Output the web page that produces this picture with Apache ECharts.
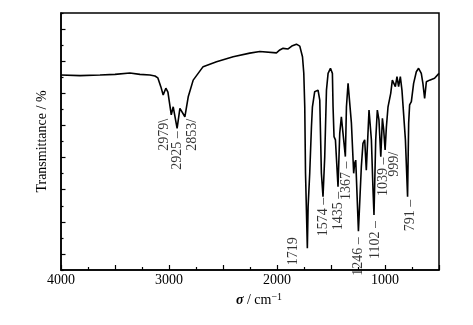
<!DOCTYPE html>
<html>
<head>
<meta charset="utf-8">
<script src="https://cdn.jsdelivr.net/npm/echarts@6/dist/echarts.min.js"></script>
<style>
html,body{margin:0;padding:0;background:#fff;}
#chart{width:473px;height:325px;}
</style>
</head>
<body>
<div id="chart"></div>
<script>
// Wavenumber (cm^-1)
const wavenumber = [4000, 3824, 3639, 3500, 3362, 3269, 3177, 3130, 3103, 3075, 3054, 3029, 3010, 2979, 2961, 2925, 2899, 2853, 2822, 2776, 2730, 2684, 2560, 2406, 2252, 2159, 2005, 1974, 1944, 1897, 1863, 1820, 1789, 1764, 1752, 1743, 1736, 1719, 1712, 1697, 1681, 1672, 1651, 1620, 1604, 1589, 1574, 1558, 1542, 1527, 1505, 1487, 1481, 1472, 1459, 1435, 1419, 1404, 1389, 1367, 1357, 1342, 1327, 1311, 1290, 1281, 1271, 1246, 1219, 1204, 1188, 1173, 1148, 1126, 1111, 1102, 1086, 1071, 1056, 1039, 1024, 1012, 999, 987, 972, 947, 932, 917, 904, 889, 874, 858, 843, 827, 811, 791, 781, 772, 756, 735, 710, 689, 664, 649, 633, 617, 587, 541, 500];
// Transmittance (arbitrary %)
const transmittance = [60.7, 60.5, 60.7, 60.9, 61.3, 60.9, 60.7, 60.4, 59.8, 57.0, 54.5, 56.6, 55.4, 48.3, 50.8, 44.1, 50.3, 47.7, 53.9, 59.1, 61.2, 63.3, 64.8, 66.4, 67.5, 68.0, 67.6, 68.5, 69.0, 68.8, 69.7, 70.3, 69.7, 66.4, 61.3, 50.8, 30.2, 6.8, 19.7, 30.1, 44.6, 50.8, 55.5, 56.0, 52.9, 30.1, 22.8, 35.3, 56.0, 61.2, 62.8, 61.2, 50.8, 41.5, 40.5, 25.9, 42.6, 47.7, 42.6, 35.3, 50.8, 58.1, 57.6, 45.7, 30.1, 33.2, 34.2, 12.1, 32.2, 39.4, 40.5, 31.1, 49.8, 40.5, 24.9, 17.1, 40.5, 49.8, 46.7, 35.3, 47.2, 43.6, 37.4, 44.6, 50.8, 55.0, 59.1, 59.7, 57.1, 60.2, 57.1, 60.2, 56.0, 56.0, 40.5, 22.8, 45.7, 51.4, 52.4, 58.1, 61.7, 62.8, 61.2, 58.1, 53.4, 58.6, 59.1, 59.7, 61.2];
// Annotated peaks
const peakWavenumbers = [2979, 2925, 2853, 1719, 1574, 1435, 1367, 1246, 1102, 1039, 999, 791];
// X tick labels
const xTickLabels = [4000, 3000, 2000, 1000];

// Label layout (pixel offsets of label top end from the peak, and leader glyph)
const peakLabelLayout = {
  2979: {d: [-7, 4], s: '\\'},
  2925: {d: [0, 3], s: ' \u2013'},
  2853: {d: [7, 2], s: '/'},
  1719: {d: [-14, -11], s: ''},
  1574: {d: [0, 1], s: ' \u2013'},
  1435: {d: [0, 5], s: ' \u2013'},
  1367: {d: [1, 5], s: ' \u2013'},
  1246: {d: [0, 6], s: ' \u2013'},
  1102: {d: [1, 6], s: ' \u2013'},
  1039: {d: [3, 1], s: ' \u2013'},
  999:  {d: [9, 2], s: '/'},
  791:  {d: [3, 3], s: ' \u2013'}
};

const FONT = 'Liberation Serif';
const spectrum = wavenumber.map((w, i) => [w, transmittance[i]]);
const peakData = peakWavenumbers.map(w => {
  const v = transmittance[wavenumber.indexOf(w)];
  const L = peakLabelLayout[w];
  return {
    value: [w, v],
    label: {position: L.d, formatter: String(w) + L.s}
  };
});

const chart = echarts.init(document.getElementById('chart'), null, {renderer: 'canvas'});
chart.setOption({
  animation: false,
  backgroundColor: '#fff',
  grid: {left: 61, top: 13, right: 34, bottom: 55, show: true, borderColor: '#000', borderWidth: 1.5, backgroundColor: 'transparent'},
  xAxis: {
    type: 'value', inverse: true, min: 500, max: 4000, interval: 500,
    axisLine: {lineStyle: {color: '#000', width: 1.5}},
    axisTick: {inside: true, length: 5, lineStyle: {color: '#000', width: 1.2}},
    minorTick: {show: true, splitNumber: 2, length: 3, lineStyle: {color: '#000', width: 1.2}},
    splitLine: {show: false},
    axisLabel: {
      showMaxLabel: true, showMinLabel: true,
      formatter: v => xTickLabels.indexOf(v) >= 0 ? String(v) : '',
      color: '#000', fontFamily: FONT, fontSize: 14, margin: 3
    },
    name: '{s|\u03c3} / cm{sup|\u22121}',
    nameLocation: 'middle', nameGap: 18,
    nameTextStyle: {
      color: '#000', fontFamily: FONT, fontSize: 14, padding: [0, 0, 0, 18],
      rich: {
        s: {fontStyle: 'italic', fontWeight: 'bold', fontFamily: FONT, fontSize: 14, color: '#000'},
        sup: {fontFamily: FONT, fontSize: 10, color: '#000', verticalAlign: 'top', padding: [0, 0, 6, 0]}
      }
    }
  },
  yAxis: {
    type: 'value', min: 0, max: 80, interval: 10,
    axisLine: {lineStyle: {color: '#000', width: 1.5}},
    axisTick: {inside: true, length: 2.5, lineStyle: {color: '#000', width: 1.2}},
    minorTick: {show: true, splitNumber: 2, length: 4.5, lineStyle: {color: '#000', width: 1.2}},
    splitLine: {show: false},
    axisLabel: {show: false},
    name: 'Transmittance / %',
    nameLocation: 'middle', nameGap: 12,
    nameTextStyle: {color: '#000', fontFamily: FONT, fontSize: 14}
  },
  series: [
    {
      type: 'line', data: spectrum, showSymbol: false, symbol: 'none', smooth: false,
      lineStyle: {color: '#000', width: 1.6}, silent: true
    },
    {
      type: 'scatter', data: peakData, symbolSize: 0, silent: true,
      itemStyle: {color: 'transparent'},
      label: {
        show: true, rotate: 90, align: 'right', verticalAlign: 'middle',
        color: '#000', fontFamily: FONT, fontSize: 14
      }
    }
  ]
});
</script>
</body>
</html>
